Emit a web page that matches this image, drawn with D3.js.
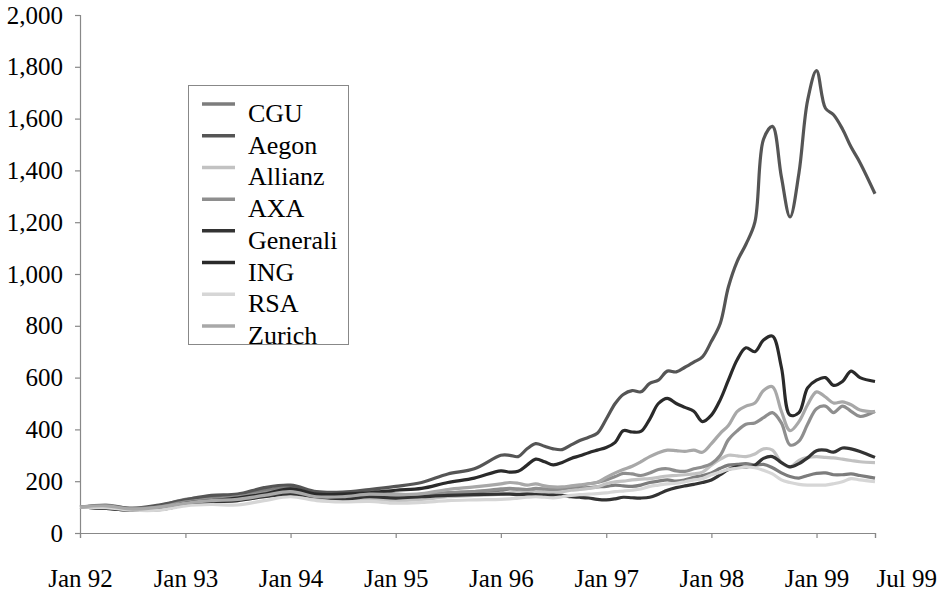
<!DOCTYPE html>
<html>
<head>
<meta charset="utf-8">
<script src="https://cdn.jsdelivr.net/npm/d3@7"></script>
<style>
body { margin: 0; background: #fff; }
svg text { font-family: "Liberation Serif", "Times New Roman", Times, serif; fill: #000; }
</style>
</head>
<body>
<svg id="chart" width="945" height="591"></svg>
<script>
// quarterly to end of 1995, monthly afterwards, last obs late July 99
const dates = [
  "1992-01-01","1992-04-01","1992-07-01","1992-10-01",
  "1993-01-01","1993-04-01","1993-07-01","1993-10-01",
  "1994-01-01","1994-04-01","1994-07-01","1994-10-01",
  "1995-01-01","1995-04-01","1995-07-01","1995-10-01",
  "1996-01-01","1996-02-01","1996-03-01","1996-04-01","1996-05-01","1996-06-01",
  "1996-07-01","1996-08-01","1996-09-01","1996-10-01","1996-11-01","1996-12-01",
  "1997-01-01","1997-02-01","1997-03-01","1997-04-01","1997-05-01","1997-06-01",
  "1997-07-01","1997-08-01","1997-09-01","1997-10-01","1997-11-01","1997-12-01",
  "1998-01-01","1998-02-01","1998-03-01","1998-04-01","1998-05-01","1998-06-01",
  "1998-07-01","1998-08-01","1998-09-01","1998-10-01","1998-11-01","1998-12-01",
  "1999-01-01","1999-02-01","1999-03-01","1999-04-01","1999-05-01","1999-06-01",
  "1999-07-23"
];

const cgu = [100,108,95,105,130,140,145,165,175,150,150,160,150,148,155,160,
  165,170,168,165,170,168,165,168,170,172,175,178,
  180,185,182,180,185,195,200,205,200,205,215,222,
  232,250,262,265,268,262,265,252,232,218,212,222,
  230,232,225,225,228,222,212];
const aegon = [100,105,95,108,128,145,150,175,185,160,158,168,180,195,228,248,
  300,300,295,325,345,335,325,322,340,357,370,385,
  440,500,535,550,545,578,590,625,622,640,660,680,
  740,810,950,1050,1115,1200,1520,1570,1375,1220,1390,1670,
  1785,1640,1615,1560,1490,1430,1310];
const allianz = [100,100,90,95,110,120,125,140,150,135,125,130,125,130,140,145,
  150,155,158,160,158,160,158,160,165,168,172,178,
  190,198,200,205,208,210,215,220,222,225,228,235,
  262,285,300,298,295,305,325,320,272,255,280,292,
  295,292,290,285,280,275,272];
const axa = [100,100,95,100,120,130,140,155,165,145,140,148,140,145,155,160,
  170,172,170,168,172,170,168,172,178,182,190,195,
  205,218,230,228,222,232,245,248,240,238,248,255,
  268,300,360,395,420,425,445,465,425,340,355,420,
  480,490,465,490,470,450,470];
const generali = [100,95,88,90,108,120,125,140,150,140,130,140,135,140,145,148,
  150,150,148,150,148,147,146,145,140,138,135,130,
  128,132,138,136,135,138,150,165,175,182,188,195,
  205,225,245,255,255,262,288,295,272,255,268,290,
  318,320,312,328,325,315,292];
const ing = [100,95,88,95,115,125,135,150,170,150,150,155,165,172,195,212,
  240,235,238,262,285,275,263,272,288,298,310,320,
  330,350,395,390,392,440,500,520,500,485,470,430,
  455,515,590,670,715,700,745,760,640,455,465,560,
  590,600,570,585,625,600,585];
const rsa = [100,98,88,88,105,110,108,125,140,125,120,122,115,118,125,128,
  130,132,135,138,140,138,136,140,145,148,150,152,
  155,160,162,165,170,180,185,190,192,198,205,210,
  225,235,245,250,255,252,242,228,205,195,188,185,
  185,185,190,198,210,205,198];
const zurich = [100,105,92,100,115,125,130,145,160,140,140,150,148,152,168,178,
  190,195,192,185,190,182,178,178,182,186,190,196,
  215,232,245,258,275,295,310,320,318,315,320,312,
  345,385,415,470,490,502,550,565,470,395,430,495,
  545,525,502,506,495,475,468];

const names = ["CGU","Aegon","Allianz","AXA","Generali","ING","RSA","Zurich"];
const values = [cgu, aegon, allianz, axa, generali, ing, rsa, zurich];
const colors = ["#7c7c7c","#555555","#c2c2c2","#8e8e8e","#333333","#2a2a2a","#d6d6d6","#a8a8a8"];
const yTicks = [0,200,400,600,800,1000,1200,1400,1600,1800,2000];
const xTicks = ["1992-01-01","1993-01-01","1994-01-01","1995-01-01","1996-01-01",
  "1997-01-01","1998-01-01","1999-01-01","1999-07-23"];

const parse = d3.timeParse("%Y-%m-%d");
const svg = d3.select("#chart");
const serif = '"Liberation Serif", "Times New Roman", Times, serif';

const x = d3.scaleTime()
  .domain([parse(dates[0]), parse(dates[dates.length-1])])
  .range([80, 875]);
const y = d3.scaleLinear().domain([0, 2000]).range([533, 15]);

// axes
const yAxis = svg.append("g").attr("class","y axis")
  .attr("transform","translate(80,0)")
  .call(d3.axisLeft(y).tickValues(yTicks).tickFormat(d3.format(",")).tickSize(5).tickPadding(12));
const xAxis = svg.append("g").attr("class","x axis")
  .attr("transform","translate(0,533)")
  .call(d3.axisBottom(x).tickValues(xTicks.map(parse)).tickFormat(d3.timeFormat("%b %y")).tickSize(5).tickPadding(31));

svg.selectAll(".axis").attr("font-family", serif).attr("font-size", 25);
svg.selectAll(".axis path, .axis line").attr("stroke","#888").attr("stroke-width",1.2);
svg.selectAll(".axis text").style("font-family", serif).style("font-size","25px");
xAxis.selectAll(".tick text")
  .filter((d,i) => i == xTicks.length-1)
  .attr("text-anchor","start").attr("dx",1);

// series
const line = d3.line()
  .x((d,i) => x(parse(dates[i])))
  .y(d => y(d))
  .curve(d3.curveCatmullRom.alpha(0.5));

svg.append("g").selectAll("path")
  .data(values)
  .enter().append("path")
  .attr("d", d => line(d))
  .attr("fill","none")
  .attr("stroke", (d,i) => colors[i])
  .attr("stroke-width", 3.2)
  .attr("stroke-linejoin","round");

// legend
const lg = svg.append("g").attr("class","legend");
lg.append("rect").attr("x",188.5).attr("y",85.5).attr("width",160).attr("height",259)
  .attr("fill","#fff").attr("stroke","#888").attr("stroke-width",1);
const ly = d3.scaleLinear().domain([0, names.length-1]).range([104, 326]);
names.forEach((n,i) => {
  lg.append("line").attr("x1",202).attr("x2",235).attr("y1",ly(i)).attr("y2",ly(i))
    .attr("stroke",colors[i]).attr("stroke-width",3.5);
  lg.append("text").attr("x",248).attr("y",ly(i)+18)
    .style("font-family", serif).style("font-size","26px").text(n);
});
</script>
</body>
</html>
